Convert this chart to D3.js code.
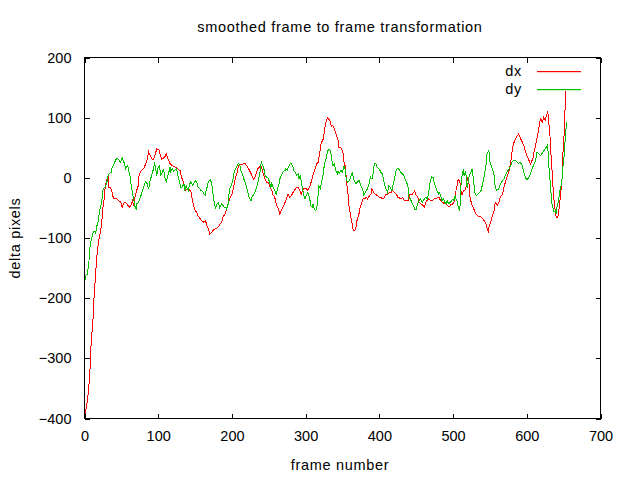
<!DOCTYPE html>
<html><head><meta charset="utf-8">
<script src="https://cdn.jsdelivr.net/npm/d3@7"></script>
<style>body{margin:0;background:#fff}svg{display:block}</style>
</head><body><svg id="c" width="640" height="480"></svg>
<script>
const titleText = "smoothed frame to frame transformation";
const xLabelText = "frame number";
const yLabelText = "delta pixels";
const seriesNames = ["dx", "dy"];
const seriesColors = ["#ff0000", "#00c000"];
const xTicks = [0, 100, 200, 300, 400, 500, 600, 700];
const yTicks = [-400, -300, -200, -100, 0, 100, 200];

const dx = [[0,-400],[1,-393],[2,-385],[4,-370],[6,-345],[7,-325],[8,-308],[9,-275],[11,-244],[12,-226],[13,-197],[15,-163],[16,-142],[17,-128],[18,-117],[19,-107],[21,-93],[23,-79],[24,-65],[25,-49],[27,-32],[28,-16],[30,-4],[31,1],[32,4],[33,-16],[35,-16],[37,-21],[38,-29],[40,-35],[44,-35],[46,-38],[49,-40],[51,-49],[53,-43],[55,-40],[59,-46],[61,-49],[64,-43],[65,-38],[67,-46],[68,-35],[70,-24],[73,-13],[74,4],[77,12],[80,15],[83,23],[85,31],[87,43],[89,37],[92,31],[94,31],[98,48],[101,46],[103,37],[105,31],[107,33],[109,35],[111,40],[114,29],[116,24],[119,20],[123,18],[126,15],[130,12],[131,4],[133,-4],[136,-13],[137,-21],[141,-18],[145,-24],[146,-35],[148,-46],[150,-54],[152,-57],[154,-63],[157,-68],[159,-71],[161,-74],[164,-71],[166,-79],[168,-85],[170,-93],[173,-90],[175,-86],[177,-85],[179,-84],[182,-81],[184,-76],[186,-74],[188,-65],[191,-60],[193,-49],[195,-43],[197,-35],[200,-27],[202,-18],[204,-4],[207,9],[209,20],[211,23],[213,22],[218,24],[220,20],[222,16],[224,12],[226,7],[229,-2],[231,0],[233,7],[235,15],[238,19],[240,18],[242,9],[245,-2],[247,-7],[249,-7],[251,-13],[254,-21],[256,-29],[258,-32],[260,-43],[263,-52],[265,-60],[267,-54],[269,-49],[272,-41],[274,-35],[276,-27],[278,-32],[281,-29],[283,-24],[285,-20],[287,-17],[290,-16],[292,-21],[294,-27],[297,-18],[299,-17],[301,-18],[303,-21],[306,-13],[308,-5],[310,4],[312,12],[315,23],[317,26],[319,40],[321,57],[324,65],[325,73],[327,90],[329,98],[330,100],[333,95],[335,85],[337,87],[339,81],[341,73],[344,62],[345,51],[347,51],[349,48],[351,40],[352,26],[354,18],[355,1],[356,-13],[357,-21],[358,-32],[359,-49],[361,-63],[363,-76],[364,-85],[366,-88],[368,-85],[369,-74],[371,-65],[373,-57],[374,-49],[376,-41],[378,-35],[380,-35],[382,-32],[384,-35],[387,-29],[389,-27],[390,-18],[392,-24],[394,-27],[397,-29],[400,-32],[402,-33],[405,-35],[407,-32],[409,-27],[411,-28],[414,-24],[416,-24],[418,-21],[420,-24],[423,-27],[425,-32],[427,-33],[429,-35],[432,-33],[434,-38],[436,-37],[439,-38],[441,-27],[443,-27],[445,-27],[448,-21],[449,-27],[452,-32],[454,-41],[456,-43],[458,-44],[461,-49],[463,-41],[465,-37],[467,-35],[470,-38],[472,-38],[474,-35],[477,-35],[479,-32],[481,-33],[483,-38],[486,-41],[488,-43],[490,-41],[492,-46],[495,-48],[497,-44],[499,-44],[501,-41],[503,-32],[504,-21],[506,-10],[507,-2],[509,-5],[511,-24],[512,-29],[513,-24],[515,-21],[517,-20],[519,-5],[520,1],[522,-13],[523,-32],[525,-43],[527,-49],[529,-54],[531,-60],[533,-63],[535,-65],[538,-65],[540,-68],[542,-71],[544,-74],[547,-88],[548,-90],[549,-79],[551,-74],[553,-65],[556,-54],[557,-43],[558,-41],[560,-45],[562,-41],[564,-32],[567,-27],[569,-16],[571,-7],[573,1],[576,12],[578,23],[580,43],[582,57],[585,65],[587,70],[589,73],[591,67],[594,59],[596,54],[598,45],[600,37],[603,29],[605,23],[606,26],[609,34],[610,45],[612,54],[614,67],[616,79],[618,95],[619,98],[621,92],[623,101],[625,96],[628,109],[629,106],[630,90],[632,62],[633,34],[635,1],[636,-27],[638,-49],[639,-60],[640,-65],[642,-66],[643,-60],[644,-49],[646,-27],[648,1],[649,40],[651,79],[652,117],[653,145]];

const dy = [[0,-180],[1,-165],[2,-162],[4,-160],[6,-140],[7,-118],[9,-104],[12,-90],[13,-88],[15,-92],[17,-79],[19,-71],[20,-57],[21,-52],[23,-43],[25,-21],[27,-16],[29,-13],[31,-4],[32,4],[34,7],[36,9],[37,15],[40,23],[42,29],[44,33],[46,31],[47,29],[49,26],[51,34],[53,28],[55,20],[56,15],[58,20],[59,18],[60,12],[62,1],[63,-10],[64,-18],[65,-24],[67,-38],[68,-46],[70,-52],[71,-43],[73,-41],[74,-38],[76,-32],[78,-24],[80,-16],[82,-9],[83,-7],[85,-10],[87,-18],[89,-5],[91,4],[92,7],[94,18],[95,26],[97,12],[98,4],[100,18],[102,20],[103,4],[105,7],[107,15],[108,9],[109,1],[111,-6],[113,4],[115,12],[116,18],[117,11],[119,15],[121,11],[123,13],[125,15],[126,7],[128,-2],[130,-13],[131,-17],[133,-14],[135,-10],[136,-21],[138,-13],[139,-17],[141,-21],[142,-13],[144,-7],[146,-10],[147,-13],[149,-7],[151,-5],[153,-10],[154,-16],[156,-18],[158,-21],[160,-22],[162,-27],[164,-29],[165,-21],[166,-17],[168,-7],[169,-5],[171,-3],[173,-13],[174,-24],[175,-35],[177,-46],[178,-50],[180,-43],[182,-41],[183,-50],[185,-46],[186,-43],[188,-46],[190,-50],[192,-49],[193,-52],[195,-43],[196,-27],[197,-18],[199,-13],[201,-5],[202,1],[203,9],[205,15],[207,20],[209,24],[211,20],[212,12],[214,7],[216,-2],[218,-7],[220,-16],[221,-21],[223,-32],[226,-38],[227,-32],[229,-29],[231,-24],[233,-18],[235,-10],[236,-2],[238,9],[239,20],[240,26],[242,20],[244,12],[245,4],[247,1],[249,0],[251,-7],[253,-16],[254,-10],[256,-16],[258,-21],[260,-27],[262,-18],[264,-10],[265,-2],[266,1],[268,7],[270,11],[272,12],[273,15],[275,13],[277,18],[279,24],[281,23],[283,18],[284,12],[286,9],[288,4],[290,7],[291,-2],[293,4],[294,-7],[296,-18],[297,-27],[299,-35],[300,-32],[302,-27],[303,-24],[305,-32],[306,-38],[307,-46],[309,-49],[310,-43],[311,-49],[313,-54],[314,-54],[316,-43],[317,-27],[318,-13],[320,-18],[321,-10],[322,-5],[324,7],[325,18],[326,26],[328,32],[329,40],[330,45],[332,48],[334,45],[335,34],[337,20],[339,23],[341,12],[343,7],[344,11],[346,8],[348,12],[350,9],[352,20],[354,12],[355,-2],[357,-7],[359,-5],[361,1],[363,9],[364,4],[366,-5],[368,-10],[370,-7],[372,-5],[373,-5],[375,-13],[377,-18],[379,-29],[381,-24],[382,-21],[384,-18],[386,-10],[388,1],[390,-2],[392,9],[393,23],[395,24],[397,18],[399,15],[401,12],[402,9],[404,7],[406,-5],[408,-16],[410,-21],[411,-24],[413,-13],[415,-16],[417,-21],[419,-10],[421,1],[422,9],[424,15],[426,15],[428,12],[429,9],[431,7],[433,4],[435,-2],[437,-7],[439,-16],[440,-32],[442,-35],[444,-41],[446,-46],[448,-52],[450,-52],[452,-43],[454,-38],[456,-35],[458,-41],[461,-35],[463,-32],[465,-35],[467,-24],[468,-13],[470,-2],[471,2],[473,0],[474,-7],[476,-13],[478,-21],[480,-27],[481,-24],[483,-29],[485,-38],[487,-35],[489,-41],[491,-43],[492,-38],[494,-43],[496,-41],[498,-38],[500,-35],[501,-38],[503,-29],[504,-35],[506,-41],[507,-49],[509,-54],[510,-38],[511,-5],[513,9],[514,12],[515,4],[517,9],[518,1],[519,-16],[521,-5],[522,4],[524,9],[526,15],[527,4],[529,-18],[530,-27],[532,-29],[534,-27],[536,-24],[538,-21],[539,-16],[541,-5],[543,9],[545,23],[546,40],[548,45],[549,43],[550,26],[552,20],[553,15],[555,9],[556,1],[557,-13],[559,-21],[562,-18],[564,-10],[567,-5],[569,-2],[571,4],[573,9],[576,15],[578,20],[580,26],[582,29],[585,29],[587,26],[589,24],[591,26],[594,20],[596,9],[598,1],[600,-3],[603,1],[605,7],[607,15],[610,23],[612,29],[614,43],[616,40],[619,37],[621,41],[623,45],[625,48],[628,54],[629,43],[630,18],[632,-10],[633,-27],[634,-43],[636,-52],[637,-57],[639,-54],[640,-60],[641,-49],[643,-38],[644,-29],[645,-21],[647,-10],[648,1],[649,18],[651,40],[652,62],[654,93]];

const series = [dx, dy];

const W = 640, H = 480;
const L = 84, R = 600, T = 57, B = 418;
const FONT = "'Liberation Sans', Arial, sans-serif";
const FS = 14.5;
const LS = 0.7;

const svg = d3.select("#c");
svg.append("rect").attr("width", W).attr("height", H).attr("fill", "#fff");

const x = d3.scaleLinear().domain([0, 700]).range([L, R]);
const y = d3.scaleLinear().domain([-400, 200]).range([B, T]);

// data lines
const line = d3.line().x(d => x(d[0]) + 0.5).y(d => y(d[1]) + 0.5);
svg.append("clipPath").attr("id", "pc").append("rect")
  .attr("x", L).attr("y", T).attr("width", R - L + 1).attr("height", B - T + 1);
const gData = svg.append("g").attr("clip-path", "url(#pc)");
series.forEach((s, i) => {
  gData.append("path").datum(s).attr("d", line)
    .attr("fill", "none").attr("stroke", seriesColors[i]).attr("stroke-width", 1)
    .attr("shape-rendering", "crispEdges");
});

// axes with inward ticks (gnuplot style, mirrored)
const tickLen = 5;
const axB = d3.axisBottom(x).tickValues(xTicks).tickSize(-tickLen).tickPadding(12).tickFormat(d3.format("d"));
const axT = d3.axisTop(x).tickValues(xTicks).tickSize(-tickLen).tickFormat("");
const axL = d3.axisLeft(y).tickValues(yTicks).tickSize(-tickLen).tickPadding(13).tickFormat(d3.format("d"));
const axR = d3.axisRight(y).tickValues(yTicks).tickSize(-tickLen).tickFormat("");

function styleAxis(g) {
  g.select(".domain").remove();
  g.selectAll("line").attr("stroke", "#000").attr("shape-rendering", "crispEdges");
  g.selectAll("text").attr("font-family", FONT).attr("font-size", FS).attr("fill", "#000");
}
svg.append("g").attr("transform", `translate(0.5,${B + 0.5})`).call(axB).call(styleAxis);
svg.append("g").attr("transform", `translate(0.5,${T + 0.5})`).call(axT).call(styleAxis);
svg.append("g").attr("transform", `translate(${L + 0.5},0.5)`).call(axL).call(styleAxis);
svg.append("g").attr("transform", `translate(${R + 0.5},0.5)`).call(axR).call(styleAxis);

// border
svg.append("rect").attr("x", L + 0.5).attr("y", T + 0.5).attr("width", R - L).attr("height", B - T)
  .attr("fill", "none").attr("stroke", "#000").attr("shape-rendering", "crispEdges");

// title & labels
function label(sel) {
  return sel.attr("text-anchor", "middle").attr("font-family", FONT)
    .attr("font-size", FS).attr("letter-spacing", LS).attr("fill", "#000");
}
svg.append("text").attr("x", 340).attr("y", 32).call(label).text(titleText);
svg.append("text").attr("x", 340).attr("y", 470).call(label).text(xLabelText);
svg.append("text").attr("transform", "translate(20,238) rotate(-90)").call(label).text(yLabelText);

// legend
const legY = [71, 89];
seriesNames.forEach((n, i) => {
  svg.append("text").attr("x", 522).attr("y", legY[i] + 5).attr("text-anchor", "end")
    .attr("font-family", FONT).attr("font-size", FS).attr("letter-spacing", LS).attr("fill", "#000").text(n);
  svg.append("rect").attr("x", 537).attr("y", legY[i]).attr("width", 44).attr("height", 1.2)
    .attr("fill", seriesColors[i]);
});
</script>
</body></html>
